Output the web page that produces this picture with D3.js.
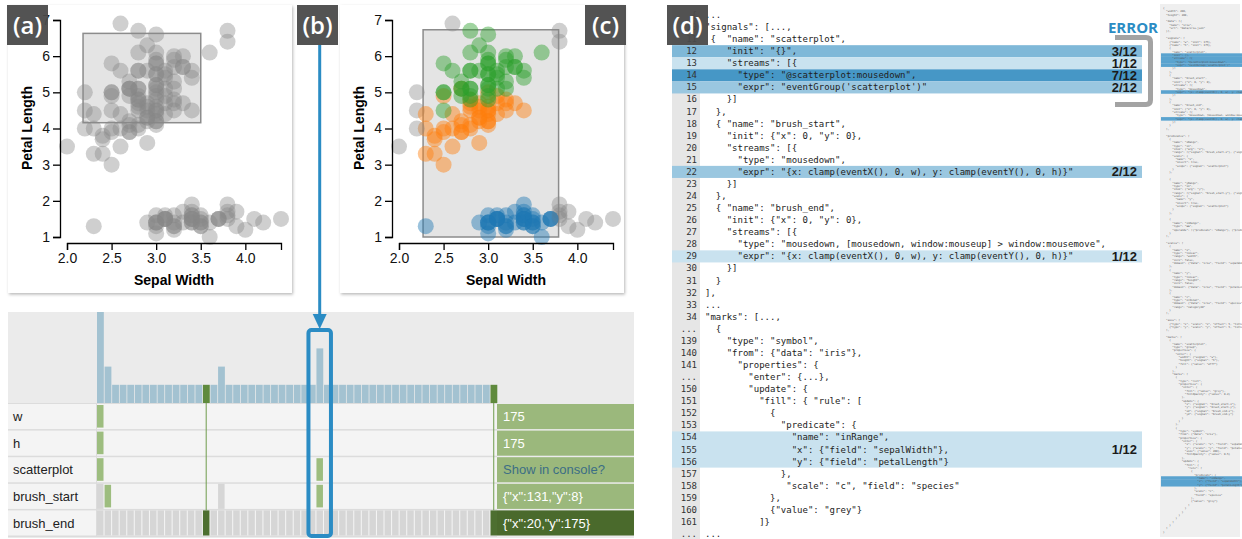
<!DOCTYPE html>
<html>
<head>
<meta charset="utf-8">
<script src="https://cdn.jsdelivr.net/npm/d3@7"></script>
<style>
  body { margin: 0; background: #fff; }
  svg { display: block; font-family: "Liberation Sans", Arial, sans-serif; }
  .mono { font-family: "DejaVu Sans Mono", monospace; white-space: pre; }
</style>
</head>
<body>
<script>
// iris data: [sepalWidth, petalLength]
const setosa = [[3.5,1.4],[3.0,1.4],[3.2,1.3],[3.1,1.5],[3.6,1.4],[3.9,1.7],[3.4,1.4],[3.4,1.5],[2.9,1.4],[3.1,1.5],
  [3.7,1.5],[3.4,1.6],[3.0,1.4],[3.0,1.1],[4.0,1.2],[4.4,1.5],[3.9,1.3],[3.5,1.4],[3.8,1.7],[3.8,1.5],
  [3.4,1.7],[3.7,1.5],[3.6,1.0],[3.3,1.7],[3.4,1.9],[3.0,1.6],[3.4,1.6],[3.5,1.5],[3.4,1.4],[3.2,1.6],
  [3.1,1.6],[3.4,1.5],[4.1,1.5],[4.2,1.4],[3.1,1.5],[3.2,1.2],[3.5,1.3],[3.1,1.5],[3.0,1.3],[3.4,1.5],
  [3.5,1.3],[2.3,1.3],[3.2,1.3],[3.5,1.6],[3.8,1.9],[3.0,1.4],[3.8,1.6],[3.2,1.4],[3.7,1.5],[3.3,1.4]];
const versicolor = [[3.2,4.7],[3.2,4.5],[3.1,4.9],[2.3,4.0],[2.8,4.6],[2.8,4.5],[3.3,4.7],[2.4,3.3],[2.9,4.6],[2.7,3.9],
  [2.0,3.5],[3.0,4.2],[2.2,4.0],[2.9,4.7],[2.9,3.6],[3.1,4.4],[3.0,4.5],[2.7,4.1],[2.2,4.5],[2.5,3.9],
  [3.2,4.8],[2.8,4.0],[2.5,4.9],[2.8,4.7],[2.9,4.3],[3.0,4.4],[2.8,4.8],[3.0,5.0],[2.9,4.5],[2.6,3.5],
  [2.4,3.8],[2.4,3.7],[2.7,3.9],[2.7,5.1],[3.0,4.5],[3.4,4.5],[3.1,4.7],[2.3,4.4],[3.0,4.1],[2.5,4.0],
  [2.6,4.4],[3.0,4.6],[2.6,4.0],[2.3,3.3],[2.7,4.2],[3.0,4.2],[2.9,4.2],[2.9,4.3],[2.5,3.0],[2.8,4.1]];
const virginica = [[3.3,6.0],[2.7,5.1],[3.0,5.9],[2.9,5.6],[3.0,5.8],[3.0,6.6],[2.5,4.5],[2.9,6.3],[2.5,5.8],[3.6,6.1],
  [3.2,5.1],[2.7,5.3],[3.0,5.5],[2.5,5.0],[2.8,5.1],[3.2,5.3],[3.0,5.5],[3.8,6.7],[2.6,6.9],[2.2,5.0],
  [3.2,5.7],[2.8,4.9],[2.8,6.7],[2.7,4.9],[3.3,5.7],[3.2,6.0],[2.8,4.8],[3.0,4.9],[2.8,5.6],[3.0,5.8],
  [2.8,6.1],[3.8,6.4],[2.8,5.6],[2.8,5.1],[2.6,5.6],[3.0,6.1],[3.4,5.6],[3.1,5.5],[3.0,4.8],[3.1,5.4],
  [3.1,5.6],[3.1,5.1],[2.7,5.1],[3.2,5.9],[3.3,5.7],[3.0,5.2],[2.5,5.0],[3.0,5.2],[3.4,5.4],[3.0,5.1]];
const speciesColors = ["#1f77b4", "#ff7f0e", "#2ca02c"];
const xTicks = [2.0, 2.5, 3.0, 3.5, 4.0];
const yTicks = [1, 2, 3, 4, 5, 6, 7];
// brushes in data units: [x0, y0, x1, y1]
const brushA = [2.18, 4.16, 3.5, 6.63];
const brushC = [2.27, 1.0, 3.79, 6.73];

// timeline of recorded events (g = changed, x = unchanged, d = selected, . = nothing)
const signalNames = ["w", "h", "scatterplot", "brush_start", "brush_end"];
const signalValues = ["175", "175", "Show in console?", '{"x":131,"y":8}', '{"x":20,"y":175}'];
const signalTrace = [
  "g.........|..........|..........|..........|..........|...",
  "g.........|..........|..........|..........|..........|...",
  "g.........|..........|.........g|..........|..........|...",
  "xg........|......x...|.........g|..........|..........|...",
  "xxxxxxxxxx|xxxxdxxxxx|xxxxxxxxxx|xxxxxxxxxx|xxxxxxxxxx|xxd"
];
const inspectedEvent = 29;

// code view
const codeGutter = ["{", "10", "11", "12", "13", "14", "15", "16", "17", "18", "19", "20", "21", "22",
  "23", "24", "25", "26", "27", "28", "29", "30", "31", "32", "33", "34", "...", "139", "140", "141",
  "...", "150", "151", "152", "153", "154", "155", "156", "157", "158", "159", "160", "161", "..."];
const codeLines = [
  "...",
  '"signals": [...,',
  ' {  "name": "scatterplot",',
  '    "init": "{}",',
  '    "streams": [{',
  '      "type": "@scatterplot:mousedown",',
  '      "expr": "eventGroup(\'scatterplot\')"',
  '    }]',
  '  },',
  '  { "name": "brush_start",',
  '    "init": {"x": 0, "y": 0},',
  '    "streams": [{',
  '      "type": "mousedown",',
  '      "expr": "{x: clamp(eventX(), 0, w), y: clamp(eventY(), 0, h)}"',
  '    }]',
  '  },',
  '  { "name": "brush_end",',
  '    "init": {"x": 0, "y": 0},',
  '    "streams": [{',
  '      "type": "mousedown, [mousedown, window:mouseup] > window:mousemove",',
  '      "expr": "{x: clamp(eventX(), 0, w), y: clamp(eventY(), 0, h)}"',
  '    }]',
  '  }',
  '],',
  '...',
  '"marks": [...,',
  '  {',
  '    "type": "symbol",',
  '    "from": {"data": "iris"},',
  '      "properties": {',
  '        "enter": {...},',
  '        "update": {',
  '          "fill": { "rule": [',
  '            {',
  '              "predicate": {',
  '                "name": "inRange",',
  '                "x": {"field": "sepalWidth"},',
  '                "y": {"field": "petalLength"}',
  '              },',
  '               "scale": "c", "field": "species"',
  '            },',
  '            {"value": "grey"}',
  '          ]}',
  '...'
];
const errorFirst = ["12", "13", "14", "15", "22", "29", "154"];
const errorLast = ["12", "13", "14", "15", "22", "29", "156"];
const errorCounts = [3, 1, 7, 2, 2, 1, 1];
const errorTotal = 12;

// full spec shown in the overview strip
const miniSpec = [
  '{', '  "width": 200,', '  "height": 200,', '',
  '  "data": [{', '    "name": "iris",', '    "url": "data/iris.json"', '  }],', '',
  '  "signals": [', '    {"name": "w", "init": 175},', '    {"name": "h", "init": 175},',
  '    {', '      "name": "scatterplot",', '      "init": {},', '      "streams": [{',
  '        "type": "@scatterplot:mousedown",', '        "expr": "eventGroup(\'scatterplot\')"',
  '      }]', '    },', '    {', '      "name": "brush_start",', '      "init": {"x": 0, "y": 0},',
  '      "streams": [{', '        "type": "mousedown",',
  '        "expr": "{x: clamp(eventX(), 0, w), y: clamp(eventY(), 0, h)}"', '      }]', '    },',
  '    {', '      "name": "brush_end",', '      "init": {"x": 0, "y": 0},', '      "streams": [{',
  '        "type": "mousedown, [mousedown, window:mouseup] > window:mousemove",',
  '        "expr": "{x: clamp(eventX(), 0, w), y: clamp(eventY(), 0, h)}"', '      }]', '    }', '  ],', '',
  '  "predicates": [', '    {', '      "name": "xRange",', '      "type": "in",', '      "item": {"arg": "x"},',
  '      "range": [{"signal": "brush_start.x"}, {"signal": "brush_end.x"}],', '      "scale": {',
  '        "name": "x",', '        "invert": true,', '        "scope": {"signal": "scatterplot"}', '      }', '    },', '',
  '    {', '      "name": "yRange",', '      "type": "in",', '      "item": {"arg": "y"},',
  '      "range": [{"signal": "brush_start.y"}, {"signal": "brush_end.y"}],', '      "scale": {',
  '        "name": "y",', '        "invert": true,', '        "scope": {"signal": "scatterplot"}', '      }', '    },', '',
  '    {', '      "name": "inRange",', '      "type": "&&",',
  '      "operands": [{"predicate": "xRange"}, {"predicate": "yRange"}]', '    }', '  ],', '',
  '  "scales": [', '    {', '      "name": "x",', '      "type": "linear",', '      "range": "width",',
  '      "zero": false,', '      "domain": {"data": "iris", "field": "sepalWidth"}', '    },', '    {',
  '      "name": "y",', '      "type": "linear",', '      "range": "height",', '      "zero": false,',
  '      "domain": {"data": "iris", "field": "petalLength"}', '    },', '    {', '      "name": "c",',
  '      "type": "ordinal",', '      "domain": {"data": "iris", "field": "species"},', '      "range": "category10"',
  '    }', '  ],', '',
  '  "axes": [', '    {"type": "x", "scale": "x", "offset": 5, "title": "Sepal Width"},',
  '    {"type": "y", "scale": "y", "offset": 5, "title": "Petal Length"}', '  ],', '',
  '  "marks": [', '    {', '      "name": "scatterplot",', '      "type": "group",', '      "properties": {',
  '        "enter": {', '          "width": {"signal": "w"},', '          "height": {"signal": "h"},',
  '          "fill": {"value": "#fff"}', '        }', '      },', '      "marks": [', '        {',
  '          "type": "rect",', '          "properties": {', '            "enter": {',
  '              "fill": {"value": "grey"},', '              "fillOpacity": {"value": 0.2}', '            },',
  '            "update": {', '              "x": {"signal": "brush_start.x"},', '              "y": {"signal": "brush_start.y"},',
  '              "x2": {"signal": "brush_end.x"},', '              "y2": {"signal": "brush_end.y"}', '            }',
  '          }', '        },', '        {', '          "type": "symbol",', '          "from": {"data": "iris"},',
  '          "properties": {', '            "enter": {', '              "x": {"scale": "x", "field": "sepalWidth"},',
  '              "y": {"scale": "y", "field": "petalLength"},', '              "size": {"value": 200},',
  '              "fillOpacity": {"value": 0.5}', '            },', '            "update": {', '              "fill": {',
  '                "rule": [', '                  {', '                    "predicate": {',
  '                      "name": "inRange",', '                      "x": {"field": "sepalWidth"},',
  '                      "y": {"field": "petalLength"}', '                    },', '                    "scale": "c",',
  '                    "field": "species"', '                  },', '                  {"value": "grey"}',
  '                ]', '              }', '            }', '          }', '        }', '      ]', '    }', '  ]', '}'
];
const miniHighlight = [14, 15, 16, 17, 25, 33, 140, 141, 142];

const W = 1242, H = 539;
const blue = "#2b8cc4";
const svg = d3.select("body").append("svg").attr("width", W).attr("height", H);

const shadow = svg.append("defs").append("filter").attr("id", "shadow")
  .attr("x", "-5%").attr("y", "-5%").attr("width", "112%").attr("height", "112%");
shadow.append("feDropShadow").attr("dx", 1).attr("dy", 1.5).attr("stdDeviation", 1.6)
  .attr("flood-color", "#000").attr("flood-opacity", 0.28);

const iris = [];
[setosa, versicolor, virginica].forEach((arr, s) =>
  arr.forEach(d => iris.push({ sw: d[0], pl: d[1], species: s })));

function drawScatter(offset, brush, colored) {
  const g = svg.append("g").attr("transform", `translate(${offset},0)`);
  g.append("rect").attr("x", 8).attr("y", 5).attr("width", 284).attr("height", 288)
    .attr("fill", "#fff").attr("filter", "url(#shadow)");

  const x = d3.scaleLinear().domain([2.0, 4.4]).range([67, 281]);
  const y = d3.scaleLinear().domain([1, 7]).range([237, 20]);

  g.append("rect")
    .attr("x", x(brush[0])).attr("y", y(brush[3]))
    .attr("width", x(brush[2]) - x(brush[0])).attr("height", y(brush[1]) - y(brush[3]))
    .attr("fill", "#e4e4e4").attr("stroke", "#8c8c8c").attr("stroke-width", 1.5);

  const inside = d => d.sw >= brush[0] && d.sw <= brush[2] && d.pl >= brush[1] && d.pl <= brush[3];
  g.append("g").selectAll("circle")
    .data(iris)
    .join("circle")
    .attr("cx", d => x(d.sw))
    .attr("cy", d => y(d.pl))
    .attr("r", 8)
    .attr("fill", d => colored && inside(d) ? speciesColors[d.species] : "#888")
    .attr("fill-opacity", d => colored && inside(d) ? 0.45 : 0.4);

  const xAxis = g.append("g").attr("transform", "translate(0,243)")
    .call(d3.axisBottom(x).tickValues(xTicks).tickFormat(d3.format(".1f")).tickSize(7).tickSizeOuter(7));
  const yAxis = g.append("g").attr("transform", "translate(60,0)")
    .call(d3.axisLeft(y).tickValues(yTicks).tickFormat(d3.format("d")).tickSize(7).tickSizeOuter(7));
  [xAxis, yAxis].forEach(a => {
    a.attr("font-size", 14).attr("font-family", "Liberation Sans, Arial, sans-serif");
    a.selectAll("path, line").attr("stroke", "#000").attr("stroke-width", 1.3);
    a.selectAll("text").attr("fill", "#111");
  });

  g.append("text").attr("x", 174).attr("y", 285).attr("text-anchor", "middle")
    .attr("font-size", 14).attr("font-weight", "bold").text("Sepal Width");
  g.append("text").attr("transform", "translate(32,128) rotate(-90)").attr("text-anchor", "middle")
    .attr("font-size", 14).attr("font-weight", "bold").text("Petal Length");
}

drawScatter(0, brushA, false);
drawScatter(332, brushC, true);

// ---- timeline ----
const trace = signalTrace.map(s => s.replace(/\|/g, ""));
const nEvents = trace[0].length;
const evX = d3.scaleBand().domain(d3.range(nEvents)).range([97, 497]).paddingInner(0.14);
const counts = d3.range(nEvents).map(i => trace.filter(r => r[i] !== ".").length);
const pinned = d3.range(nEvents).filter(i => trace.some(r => r[i] === "d"));
const histY = d3.scaleLinear().domain([0, 5]).range([403, 312]);
const rowY = d3.scaleBand().domain(signalNames).range([403, 536]);
const rh = rowY.bandwidth();

const tl = svg.append("g");
tl.append("rect").attr("x", 8).attr("y", 312).attr("width", 626).attr("height", 226).attr("fill", "#ebebeb");
tl.append("rect").attr("x", 8).attr("y", 403).attr("width", 489).attr("height", 134).attr("fill", "#dcdcdc");

tl.selectAll(".bar").data(counts).join("rect")
  .attr("x", (d, i) => evX(i)).attr("width", evX.bandwidth() + 0.3)
  .attr("y", d => histY(d)).attr("height", d => histY(0) - histY(d))
  .attr("fill", (d, i) => pinned.includes(i) ? "#5f8a3d" : "#a3c2d1");

const rows = tl.selectAll(".row").data(signalNames).join("g")
  .attr("transform", d => `translate(0,${rowY(d)})`);
rows.append("rect").attr("x", 8).attr("y", 1).attr("width", 88).attr("height", rh - 1.5).attr("fill", "#f4f4f4");
rows.append("rect").attr("x", 97).attr("y", 1).attr("width", 400).attr("height", rh - 1.5).attr("fill", "#f4f4f4");
rows.append("text").attr("x", 13).attr("y", rh / 2 + 5).attr("font-size", 13).attr("fill", "#222").text(d => d);

const cellColor = { g: "#9dbd7f", x: "#d6d6d6", d: "#4d6f30" };
signalNames.forEach((name, r) => {
  const cells = d3.range(nEvents).filter(i => trace[r][i] !== ".");
  tl.append("g").selectAll("rect").data(cells).join("rect")
    .attr("x", i => evX(i)).attr("width", evX.bandwidth())
    .attr("y", i => rowY(name) + (trace[r][i] === "g" ? 2 : 1))
    .attr("height", i => rh - (trace[r][i] === "g" ? 4 : 1.5))
    .attr("fill", i => cellColor[trace[r][i]]);
});

tl.selectAll(".pin").data(pinned).join("line")
  .attr("x1", i => evX(i) + evX.bandwidth() / 2).attr("x2", i => evX(i) + evX.bandwidth() / 2)
  .attr("y1", 403).attr("y2", rowY("brush_end") + 1)
  .attr("stroke", "#6f9c4c").attr("stroke-width", 1);

const vals = tl.selectAll(".val").data(signalNames).join("g")
  .attr("transform", d => `translate(497,${rowY(d)})`);
vals.append("rect").attr("y", 1).attr("width", 137).attr("height", rh - 1.5)
  .attr("fill", (d, i) => i === signalNames.length - 1 ? "#4a6a2c" : "#9bb87c");
vals.append("text").attr("x", 6).attr("y", rh / 2 + 5).attr("font-size", 13)
  .attr("fill", (d, i) => signalValues[i].startsWith("Show") ? "#3b6e85" : "#fff")
  .text((d, i) => signalValues[i]);

// ---- code view ----
const rowStep = 12.07;
const codeY = i => 15 + i * rowStep;
const cv = svg.append("g");
cv.append("rect").attr("x", 672).attr("y", 6).attr("width", 28).attr("height", 533).attr("fill", "#e6e6e6");

const errColor = d3.scaleLog().domain([1, 7]).range(["#c9e2ef", "#4697c6"]);
errorCounts.forEach((c, k) => {
  const a = codeGutter.indexOf(errorFirst[k]);
  const b = codeGutter.indexOf(errorLast[k]);
  cv.append("rect").attr("x", 672).attr("y", codeY(a) - rowStep / 2)
    .attr("width", 470).attr("height", (b - a + 1) * rowStep)
    .attr("fill", errColor(c));
  cv.append("text").attr("x", 1137).attr("y", codeY((a + b) / 2) + 4.5)
    .attr("text-anchor", "end").attr("font-size", 13).attr("font-weight", "bold").attr("fill", "#1a1a1a")
    .text(`${c}/${errorTotal}`);
});

cv.selectAll(".gut").data(codeGutter).join("text")
  .attr("class", "mono").attr("x", 697).attr("y", (d, i) => codeY(i) + 3)
  .attr("text-anchor", "end").attr("font-size", 9).attr("fill", "#333").text(d => d);
cv.selectAll(".code").data(codeLines).join("text")
  .attr("class", "mono").attr("xml:space", "preserve").attr("x", 705).attr("y", (d, i) => codeY(i) + 3)
  .attr("font-size", 9).attr("fill", "#222").text(d => d);

cv.append("text").attr("x", 1133).attr("y", 33).attr("text-anchor", "middle")
  .attr("font-family", "Open Sans, sans-serif").attr("font-weight", 700).attr("font-size", 15)
  .attr("fill", blue).text("ERROR");
cv.append("path").attr("d", "M1115,37.5H1146Q1150.5,37.5 1150.5,42V100Q1150.5,104.5 1146,104.5H1115")
  .attr("fill", "none").attr("stroke", "#a3a3a3").attr("stroke-width", 5);

// ---- overview strip ----
const mm = svg.append("g");
mm.append("clipPath").attr("id", "mmclip").append("rect").attr("x", 1160).attr("y", 4).attr("width", 82).attr("height", 533);
mm.append("rect").attr("x", 1160).attr("y", 4).attr("width", 80).attr("height", 533).attr("fill", "#efefef");
const mmStep = 527 / miniSpec.length;
const mmg = mm.append("g").attr("clip-path", "url(#mmclip)");
mmg.selectAll("rect.hl").data(miniHighlight).join("rect")
  .attr("x", 1161).attr("width", 81).attr("y", i => 8 + i * mmStep - mmStep / 2).attr("height", mmStep + 0.2)
  .attr("fill", "#5aa3cf");
mmg.selectAll("text").data(miniSpec).join("text")
  .attr("class", "mono").attr("xml:space", "preserve").attr("x", 1163).attr("y", (d, i) => 9 + i * mmStep)
  .attr("font-size", 2.6).attr("fill", "#555").text(d => d);

// ---- panel labels ----
const labels = [["(a)", 7], ["(b)", 297], ["(c)", 585], ["(d)", 667]];
const lab = svg.selectAll(".lab").data(labels).join("g").attr("transform", d => `translate(${d[1]},5)`);
lab.append("rect").attr("width", 41).attr("height", 40).attr("fill", "#4a4a4a").attr("fill-opacity", 0.95);
lab.append("text").attr("x", 20.5).attr("y", 29).attr("text-anchor", "middle")
  .attr("font-family", "Open Sans, sans-serif").attr("font-weight", 600).attr("font-size", 24)
  .attr("fill", "#fff").text(d => d[0]);

// ---- link from (b) to the inspected event ----
const cx = evX(inspectedEvent) + evX.bandwidth() / 2;
svg.append("line").attr("x1", cx).attr("x2", cx).attr("y1", 45).attr("y2", 316)
  .attr("stroke", blue).attr("stroke-width", 3);
svg.append("path").attr("d", `M${cx - 7},314L${cx + 7},314L${cx},329Z`).attr("fill", blue);
svg.append("rect").attr("x", evX(inspectedEvent) - 8).attr("y", 330)
  .attr("width", evX.bandwidth() + 16).attr("height", 206).attr("rx", 3)
  .attr("fill", "none").attr("stroke", blue).attr("stroke-width", 4);
</script>
</body>
</html>
